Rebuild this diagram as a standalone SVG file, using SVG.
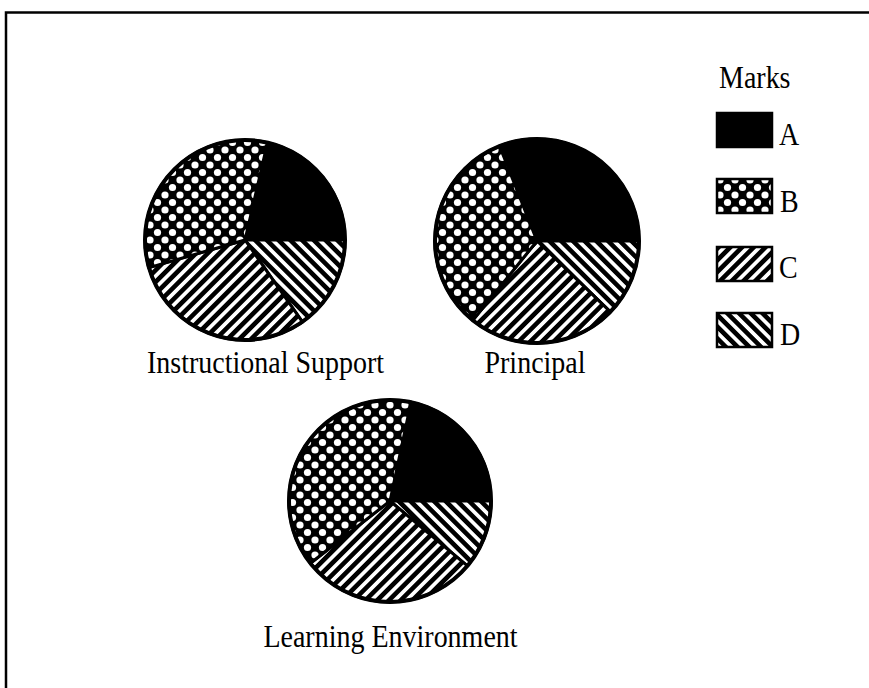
<svg xmlns="http://www.w3.org/2000/svg" width="869" height="688" viewBox="0 0 869 688">
<style>
.lbl{font-family:"Liberation Serif","Times New Roman",serif;font-size:28px;fill:#000}
.sl{stroke:#000;stroke-width:3;stroke-linejoin:round}
.rim{fill:none;stroke:#000;stroke-width:4}
.sw{stroke:#000;stroke-width:2.5}
.frame{stroke:#000;stroke-width:2.5;fill:none}
</style>
<defs>
<pattern id="pB" width="15" height="15" patternUnits="userSpaceOnUse">
<rect width="15" height="15" fill="#000"/>
<circle cx="0" cy="0" r="3.6" fill="#fff"/>
<circle cx="15" cy="0" r="3.6" fill="#fff"/>
<circle cx="0" cy="15" r="3.6" fill="#fff"/>
<circle cx="15" cy="15" r="3.6" fill="#fff"/>
<circle cx="7.5" cy="7.5" r="3.6" fill="#fff"/>
</pattern>
<pattern id="pC" width="8.3" height="8.3" patternUnits="userSpaceOnUse" patternTransform="rotate(45)">
<rect width="8.3" height="8.3" fill="#fff"/>
<rect width="4.6" height="8.3" fill="#000"/>
</pattern>
<pattern id="pD" width="8.3" height="8.3" patternUnits="userSpaceOnUse" patternTransform="rotate(-45)">
<rect width="8.3" height="8.3" fill="#fff"/>
<rect width="4.6" height="8.3" fill="#000"/>
</pattern>
</defs>
<rect width="869" height="688" fill="#fff"/>
<g id="frame">
<polyline class="frame" points="869,12.5 6,12.5 6,688"/>
</g>

<g id="pie-instructional-support">
<path class="sl" fill="#000" d="M245,240 L267.5,142.6 A100,100 0 0 1 345,240 Z"/>
<path class="sl" fill="url(#pD)" d="M245,240 L345,240 A100,100 0 0 1 302.4,321.9 Z"/>
<path class="sl" fill="url(#pC)" d="M245,240 L302.4,321.9 A100,100 0 0 1 148.9,267.6 Z"/>
<path class="sl" fill="url(#pB)" d="M245,240 L148.9,267.6 A100,100 0 0 1 267.5,142.6 Z"/>
<circle class="rim" cx="245" cy="240" r="100"/>
<text class="lbl" transform="translate(265.5,373) scale(1,1.1)" text-anchor="middle">Instructional Support</text>
</g>

<g id="pie-principal">
<path class="sl" fill="#000" d="M537,241 L499.6,146.1 A102,102 0 0 1 639,241 Z"/>
<path class="sl" fill="url(#pD)" d="M537,241 L639,241 A102,102 0 0 1 610.4,311.9 Z"/>
<path class="sl" fill="url(#pC)" d="M537,241 L610.4,311.9 A102,102 0 0 1 472.8,320.3 Z"/>
<path class="sl" fill="url(#pB)" d="M537,241 L472.8,320.3 A102,102 0 0 1 499.6,146.1 Z"/>
<circle class="rim" cx="537" cy="241" r="102"/>
<text class="lbl" transform="translate(535,373) scale(1,1.1)" text-anchor="middle">Principal</text>
</g>

<g id="pie-learning-environment">
<path class="sl" fill="#000" d="M390,501 L411,402.2 A101,101 0 0 1 491,501 Z"/>
<path class="sl" fill="url(#pD)" d="M390,501 L491,501 A101,101 0 0 1 467.4,565.9 Z"/>
<path class="sl" fill="url(#pC)" d="M390,501 L467.4,565.9 A101,101 0 0 1 310.4,563.2 Z"/>
<path class="sl" fill="url(#pB)" d="M390,501 L310.4,563.2 A101,101 0 0 1 411,402.2 Z"/>
<circle class="rim" cx="390" cy="501" r="101"/>
<text class="lbl" transform="translate(390.5,647) scale(1,1.1)" text-anchor="middle">Learning Environment</text>
</g>

<g id="legend">
<text class="lbl" transform="translate(719,88) scale(1,1.1)">Marks</text>
<g id="legend-A">
<rect class="sw" x="717" y="113" width="55" height="34" fill="#000"/>
<text class="lbl" transform="translate(779,145) scale(1,1.1)">A</text>
</g>
<g id="legend-B">
<rect class="sw" x="717" y="179" width="55" height="34" fill="url(#pB)"/>
<text class="lbl" transform="translate(780,212) scale(1,1.1)">B</text>
</g>
<g id="legend-C">
<rect class="sw" x="717" y="247" width="55" height="34" fill="url(#pC)"/>
<text class="lbl" transform="translate(779,278) scale(1,1.1)">C</text>
</g>
<g id="legend-D">
<rect class="sw" x="717" y="313" width="55" height="34" fill="url(#pD)"/>
<text class="lbl" transform="translate(780,345) scale(1,1.1)">D</text>
</g>
</g>
</svg>
